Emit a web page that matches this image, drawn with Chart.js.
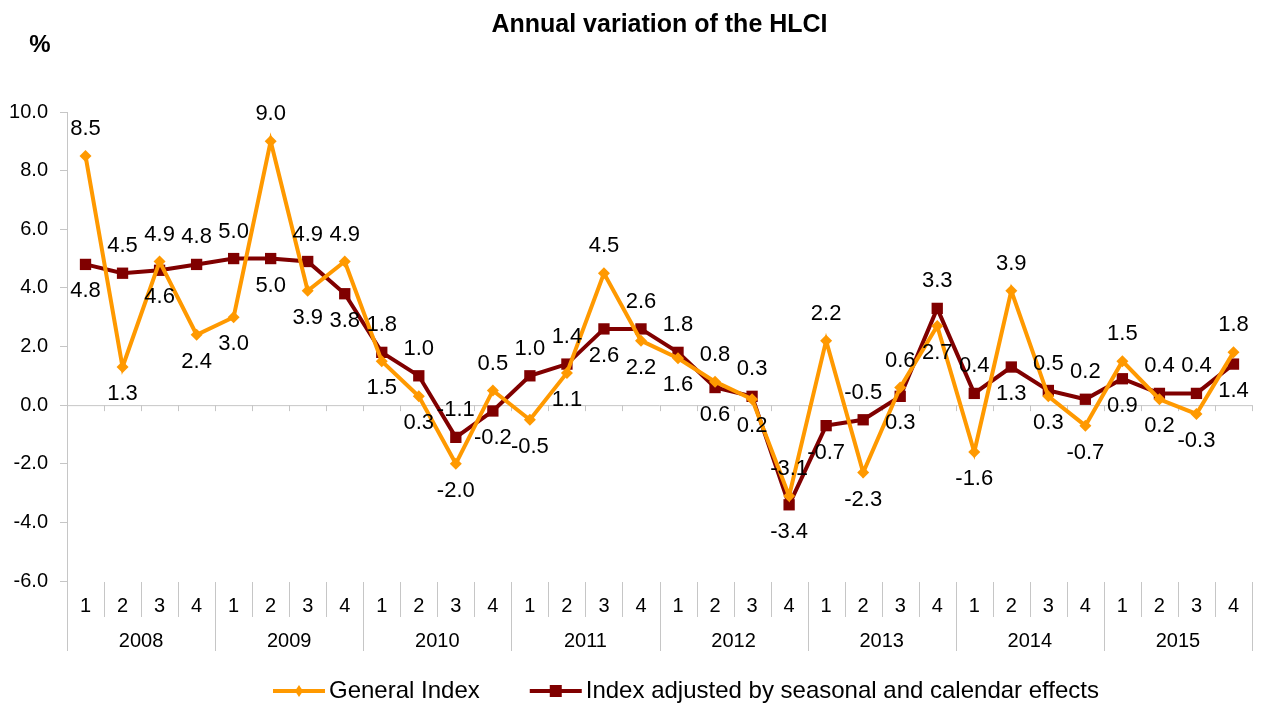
<!DOCTYPE html>
<html>
<head>
<meta charset="utf-8">
<script src="https://cdn.jsdelivr.net/npm/chart.js@4.4.1/dist/chart.umd.min.js"></script>
<style>
  html, body { margin: 0; padding: 0; background: #fff; }
</style>
</head>
<body>
<canvas id="hlciChart" width="1262" height="704"></canvas>
<script>
const years = ['2008', '2009', '2010', '2011', '2012', '2013', '2014', '2015'];
const quarters = years.flatMap(() => ['1', '2', '3', '4']);

const generalIndex = [
  8.5, 1.3, 4.9, 2.4,
  3.0, 9.0, 3.9, 4.9,
  1.5, 0.3, -2.0, 0.5,
  -0.5, 1.1, 4.5, 2.2,
  1.6, 0.8, 0.2, -3.1,
  2.2, -2.3, 0.6, 2.7,
  -1.6, 3.9, 0.3, -0.7,
  1.5, 0.2, -0.3, 1.8
];
const adjustedIndex = [
  4.8, 4.5, 4.6, 4.8,
  5.0, 5.0, 4.9, 3.8,
  1.8, 1.0, -1.1, -0.2,
  1.0, 1.4, 2.6, 2.6,
  1.8, 0.6, 0.3, -3.4,
  -0.7, -0.5, 0.3, 3.3,
  0.4, 1.3, 0.5, 0.2,
  0.9, 0.4, 0.4, 1.4
];

const ORANGE = '#FF9900';
const DARKRED = '#800000';
const GRID = '#c6c6c6';
const FONT = '"Liberation Sans", Arial, sans-serif';

// zero line, category separators, value labels, title and legend
const decor = {
  id: 'decor',
  beforeDatasetsDraw(chart) {
    const { ctx, chartArea, scales } = chart;
    const y0 = scales.y.getPixelForValue(0);
    const n = quarters.length;
    const w = (chartArea.right - chartArea.left) / n;
    ctx.save();
    ctx.strokeStyle = GRID;
    ctx.lineWidth = 1;
    ctx.beginPath();
    ctx.moveTo(chartArea.left, y0 + 0.5);
    ctx.lineTo(chartArea.right, y0 + 0.5);
    for (let i = 0; i <= n; i++) {
      const x = Math.round(chartArea.left + i * w) + 0.5;
      ctx.moveTo(x, y0);
      ctx.lineTo(x, y0 + 6);
      // separators under the plot
      ctx.moveTo(x, chartArea.bottom + 1);
      ctx.lineTo(x, chartArea.bottom + (i % 4 === 0 ? 70 : 36));
    }
    ctx.stroke();
    ctx.restore();
  },
  afterDatasetsDraw(chart) {
    const { ctx } = chart;
    const sets = chart.data.datasets;
    ctx.save();
    ctx.font = '22px ' + FONT;
    ctx.fillStyle = '#000';
    ctx.textAlign = 'center';
    ctx.textBaseline = 'middle';
    sets.forEach((ds, d) => {
      const other = sets[1 - d].data;
      chart.getDatasetMeta(d).data.forEach((pt, i) => {
        const v = ds.data[i];
        const up = v > other[i] || (v === other[i] && d === 0);
        ctx.fillText(v.toFixed(1), pt.x, pt.y + (up ? -27 : 27));
      });
    });
    ctx.restore();
  },
  afterDraw(chart) {
    const { ctx, chartArea } = chart;
    ctx.save();
    ctx.fillStyle = '#000';
    ctx.textBaseline = 'middle';
    ctx.textAlign = 'center';
    ctx.font = 'bold 25px ' + FONT;
    ctx.fillText('Annual variation of the HLCI', (chartArea.left + chartArea.right) / 2, 25);
    ctx.font = 'bold 24px ' + FONT;
    ctx.fillText('%', 40, 45);

    // legend
    ctx.font = '24px ' + FONT;
    ctx.textAlign = 'left';
    const lineLen = 52, gap = 50, ly = 691;
    const items = chart.data.datasets.map(ds => ({ ds, tw: ctx.measureText(ds.label).width }));
    const total = items.reduce((s, it) => s + lineLen + 4 + it.tw, 0) + gap * (items.length - 1);
    let x = 686 - total / 2;
    items.forEach(({ ds, tw }) => {
      const cx = x + lineLen / 2;
      ctx.strokeStyle = ds.borderColor;
      ctx.lineWidth = 4;
      ctx.beginPath();
      ctx.moveTo(x, ly);
      ctx.lineTo(x + lineLen, ly);
      ctx.stroke();
      ctx.fillStyle = ds.backgroundColor;
      ctx.beginPath();
      if (ds.pointStyle === 'rect') {
        ctx.rect(cx - 6, ly - 6, 12, 12);
      } else {
        ctx.moveTo(cx, ly - 6);
        ctx.lineTo(cx + 4, ly);
        ctx.lineTo(cx, ly + 6);
        ctx.lineTo(cx - 4, ly);
        ctx.closePath();
      }
      ctx.fill();
      ctx.fillStyle = '#000';
      ctx.fillText(ds.label, x + lineLen + 4, ly);
      x += lineLen + 4 + tw + gap;
    });
    ctx.restore();
  }
};

new Chart(document.getElementById('hlciChart'), {
  type: 'line',
  data: {
    labels: quarters,
    datasets: [
      {
        label: 'General Index',
        data: generalIndex,
        borderColor: ORANGE,
        backgroundColor: ORANGE,
        borderWidth: 4,
        pointStyle: 'rectRot',
        pointRadius: 6,
        pointBorderWidth: 0,
        tension: 0
      },
      {
        label: 'Index adjusted by seasonal and calendar effects',
        data: adjustedIndex,
        borderColor: DARKRED,
        backgroundColor: DARKRED,
        borderWidth: 4,
        pointStyle: 'rect',
        pointRadius: 8,
        pointBorderWidth: 0,
        tension: 0
      }
    ]
  },
  options: {
    responsive: false,
    animation: false,
    layout: { padding: { top: 112, right: 10, bottom: 51, left: 0 } },
    plugins: {
      legend: { display: false },
      title: { display: false },
      tooltip: { enabled: false }
    },
    scales: {
      y: {
        min: -6,
        max: 10,
        ticks: {
          stepSize: 2,
          padding: 12,
          color: '#000',
          font: { family: FONT, size: 20 },
          callback: v => v.toFixed(1)
        },
        grid: { drawOnChartArea: false, drawTicks: true, tickLength: 7, color: GRID },
        border: { display: true, color: GRID },
        afterFit: s => { s.width = 67; }
      },
      x: {
        offset: true,
        weight: 0,
        grid: { display: false, drawTicks: false },
        border: { display: false },
        ticks: {
          padding: 13,
          color: '#000',
          autoSkip: false,
          maxRotation: 0,
          font: { family: FONT, size: 20 }
        },
        afterFit: s => { s.height = 36; }
      },
      x2: {
        type: 'category',
        labels: years,
        position: 'bottom',
        offset: true,
        weight: 1,
        grid: { display: false, drawTicks: false },
        border: { display: false },
        ticks: {
          padding: 12,
          color: '#000',
          autoSkip: false,
          maxRotation: 0,
          font: { family: FONT, size: 20 }
        },
        afterFit: s => { s.height = 36; }
      }
    }
  },
  plugins: [decor]
});
</script>
</body>
</html>
